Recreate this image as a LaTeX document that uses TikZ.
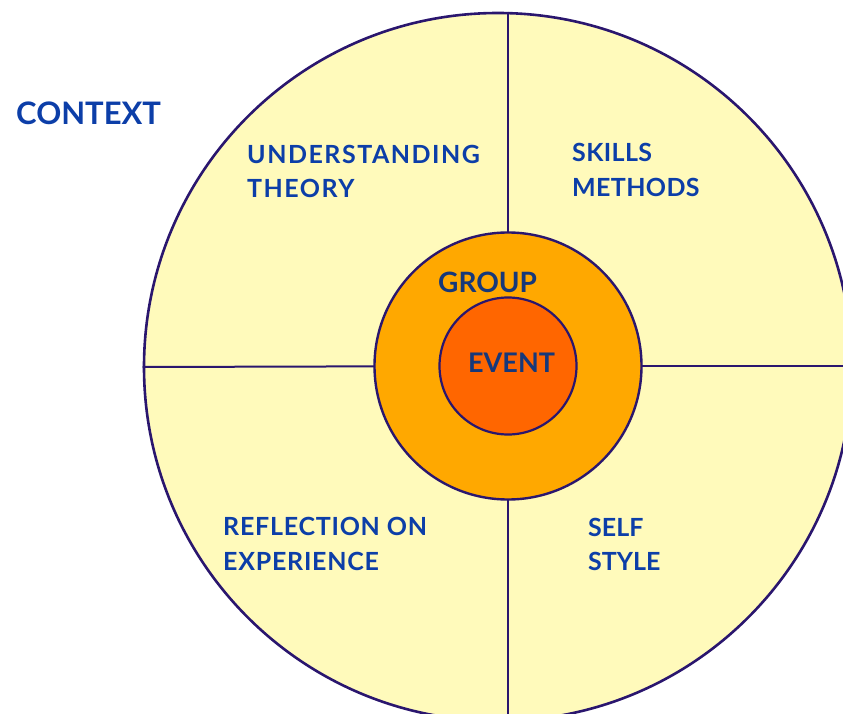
\documentclass[tikz,border=0pt]{standalone}
\usepackage{fontspec}
\setmainfont{Lato}
\usepackage{tikz}
\usetikzlibrary{positioning}
\definecolor{fieldyellow}{RGB}{255,250,187}
\definecolor{groupor}{RGB}{255,168,0}
\definecolor{eventor}{RGB}{255,102,0}
\definecolor{rimline}{RGB}{42,22,110}
\definecolor{labelblue}{RGB}{12,62,168}
\definecolor{innerblue}{RGB}{22,56,122}
\tikzset{
	ring/.style={
		circle,
		draw=rimline,
		inner sep=0pt},
	divider/.style={
		draw=rimline,
		line width=2pt},
	quarter/.style={
		anchor=north west,
		inner sep=0pt,
		align=left,
		text=labelblue,
		font=\fontsize{25}{34.5}\selectfont\bfseries}
}

\begin{document}
\begin{tikzpicture}[x=1pt, y=-1pt]
	\useasboundingbox (0,0) rectangle (843,714);
	\clip (0,0) rectangle (843,714);
	\node[ring, fill=fieldyellow, line width=2.6pt, minimum size=708pt] (field) at (498,367) {};
	\coordinate (centre) at (508,366);
	\draw[divider] (centre |- field.north) -- (centre);
	\draw[divider] (field.west) -- (centre);
	\draw[divider] (centre) -- (centre -| field.east);
	\draw[divider] (centre) -- (centre |- field.south);
	\node[ring, fill=groupor, line width=2.4pt, minimum size=267pt] (group) at (centre) {};
	\node[ring, fill=eventor, line width=2.2pt, minimum size=137pt] (event) at (centre) {};
	\node[quarter, font=\fontsize{31}{38}\selectfont\bfseries] (context) at (16,102) {CONTEXT};
	\node[quarter, font=\fontsize{25}{34.5}\selectfont\bfseries\addfontfeature{LetterSpace=6}] (theory) at (247,145) {UNDERSTANDING\\THEORY};
	\node[quarter, font=\fontsize{25}{35}\selectfont\bfseries\addfontfeature{LetterSpace=1.5}] (skills) at (572,143) {SKILLS\\METHODS};
	\node[quarter, font=\fontsize{25}{35}\selectfont\bfseries\addfontfeature{LetterSpace=3}] (reflection) at (223,517) {REFLECTION ON\\EXPERIENCE};
	\node[quarter] (self) at (588,518) {SELF\\STYLE};
	\node[quarter, text=innerblue, font=\fontsize{28}{34}\selectfont\bfseries] (grouplabel) at (438,272) {GROUP};
	\node[quarter, text=innerblue, font=\fontsize{27}{34}\selectfont\bfseries] (eventlabel) at (468,353) {EVENT};
\end{tikzpicture}
\end{document}
